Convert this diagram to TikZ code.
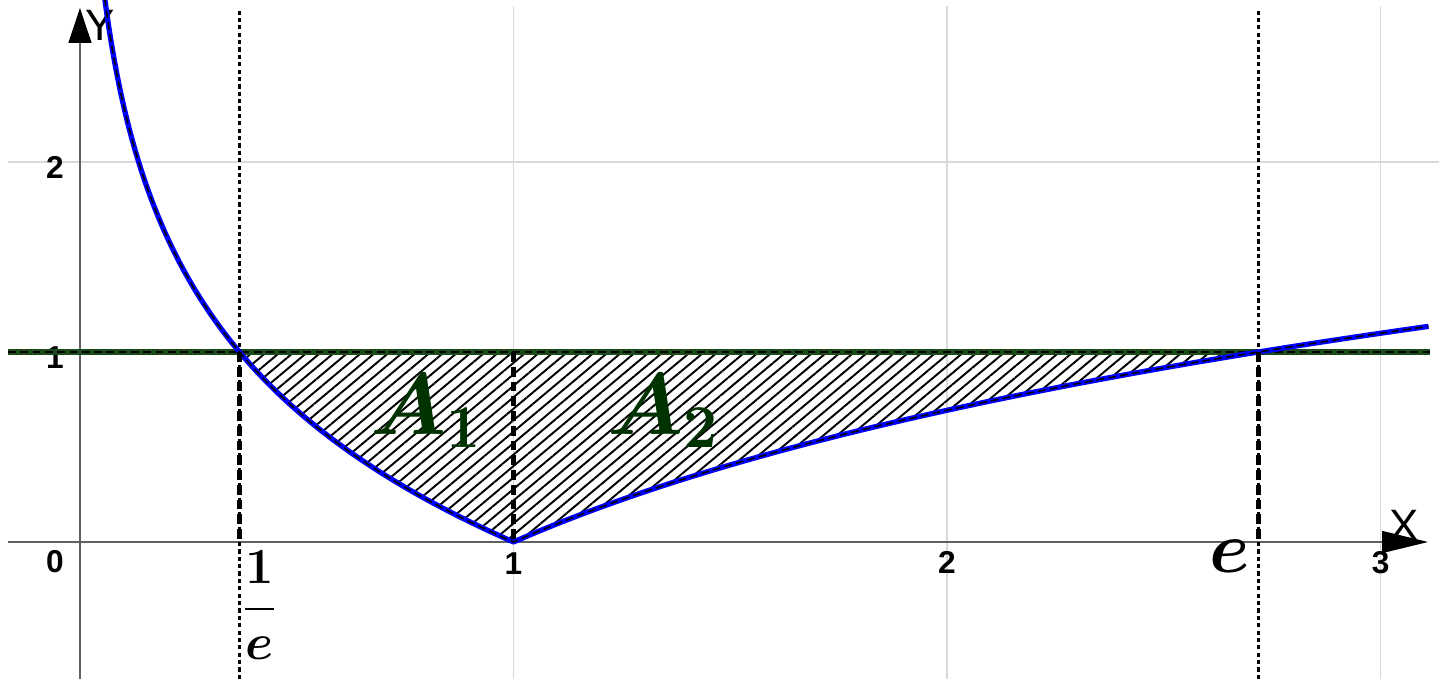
\documentclass[tikz,border=0pt]{standalone}
\usepackage{fontspec}
\setsansfont{Liberation Sans}
\usepackage{amsmath,bm}
\usetikzlibrary{arrows.meta,patterns.meta}
\definecolor{curveblue}{rgb}{0,0,1}
\definecolor{linegreen}{rgb}{0.1,0.3,0.1}
\definecolor{labelgreen}{rgb}{0,0.2,0}
\definecolor{gridgray}{rgb}{0.85,0.85,0.85}
\definecolor{axisgray}{rgb}{0.38,0.38,0.38}
\begin{document}
\begin{tikzpicture}[x=4.335cm,y=1.9cm,
  gridline/.style={gridgray,line width=0.45pt},
  axisline/.style={axisgray,line width=0.4pt},
  ticklabel/.style={font=\sffamily\bfseries\fontsize{9}{10}\selectfont,inner sep=0pt},
  thinguide/.style={black,line width=0.7pt,dash pattern=on 1.2pt off 0.9pt},
  thickguide/.style={black,line width=1.5pt,dash pattern=on 2.8pt off 1.4pt},
  arealabel/.style={labelgreen,font=\fontsize{27}{31}\selectfont,inner sep=0pt},
  axislabel/.style={font=\sffamily\fontsize{12.5}{14}\selectfont,inner sep=0pt},
  hatch/.style={pattern={Lines[angle=40,distance=2.5pt,line width=0.55pt]}}]
\useasboundingbox (-0.1845,-0.7211) rectangle (3.1349,2.8526);
% key points
\coordinate (O) at (0,0);
\coordinate (pa) at ({exp(-1)},1);
\coordinate (pa0) at ({exp(-1)},0);
\coordinate (pb) at ({exp(1)},1);
\coordinate (pb0) at ({exp(1)},0);
\coordinate (p1) at (1,1);
\coordinate (p10) at (1,0);
\coordinate (lineL) at (-0.166,1);
\coordinate (lineR) at (3.114,1);
% grid
\foreach \i in {1,2,3}{
  \coordinate (gb\i) at (\i,-0.7211);
  \coordinate (gt\i) at (\i,2.821);
  \draw[gridline] (gb\i) -- (gt\i);
}
\coordinate (hg2L) at (-0.166,2);
\coordinate (hg2R) at (3.1349,2);
\draw[gridline] (hg2L) -- (hg2R);
% axes
\coordinate (xL) at (-0.166,0);
\coordinate (xR) at (3.1096,0);
\coordinate (yB) at (0,-0.7211);
\coordinate (yT) at (0,2.8105);
\draw[axisline,-{Triangle[length=0.46cm,width=0.22cm,color=black]}] (xL) -- (xR);
\draw[axisline,-{Triangle[length=0.35cm,width=0.23cm,color=black]}] (yB) -- (yT);
\node[axislabel] (ylab) at (0.047,2.72) {Y};
\node[axislabel] (xlab) at (3.054,0.089) {X};
% tick labels
\node[ticklabel] (t0) at (-0.0577,-0.105) {0};
\node[ticklabel] (tx1) at (1,-0.115) {1};
\node[ticklabel] (tx2) at (2,-0.11) {2};
\node[ticklabel] (tx3) at (3,-0.11) {3};
\node[ticklabel] (ty1) at (-0.0577,0.972) {1};
\node[ticklabel] (ty2) at (-0.0577,1.972) {2};
% hatched region
\fill[hatch] (pa) -- plot[domain=1:0,samples=80] ({exp(-\x)},\x)
  -- plot[domain=0:1,samples=80] ({exp(\x)},\x) -- cycle;
% full-height dotted guides
\coordinate (ga0) at ({exp(-1)},-0.7211);
\coordinate (ga1) at ({exp(-1)},2.81);
\coordinate (gbb0) at ({exp(1)},-0.7211);
\coordinate (gbb1) at ({exp(1)},2.81);
\draw[thinguide] (ga0) -- (ga1);
\draw[thinguide] (gbb0) -- (gbb1);
% line y = 1
\draw[linegreen,line width=1.6pt] (lineL) -- (lineR);
\draw[black,line width=0.45pt,dash pattern=on 2.2pt off 1.3pt] (lineL) -- (lineR);
% curve |ln x|
\draw[curveblue,line width=1.5pt,line join=round]
  plot[domain=2.86:0,samples=200] ({exp(-\x)},\x)
  -- plot[domain=0:1.1359,samples=120] ({exp(\x)},\x);
\draw[black,line width=0.45pt,dash pattern=on 2.2pt off 1.2pt]
  plot[domain=2.86:0,samples=200] ({exp(-\x)},\x)
  -- plot[domain=0:1.1359,samples=120] ({exp(\x)},\x);
% thick dashed verticals
\draw[thickguide] (pa) -- (pa0);
\draw[thickguide] (p1) -- (p10);
\draw[thickguide] (pb) -- (pb0);
% area labels
\node[arealabel] (A1) at (0.80,0.69) {$\bm{A_1}$};
\node[arealabel] (A2) at (1.345,0.69) {$\bm{A_2}$};
% special x labels
\node[font=\fontsize{14.8}{17}\selectfont,inner sep=0pt] (inve) at (0.414,-0.335) {$\bm{\dfrac{1}{e}}$};
\node[font=\fontsize{22}{26}\selectfont,inner sep=0pt] (elab) at (2.653,-0.075) {$\bm{e}$};
\end{tikzpicture}
\end{document}
